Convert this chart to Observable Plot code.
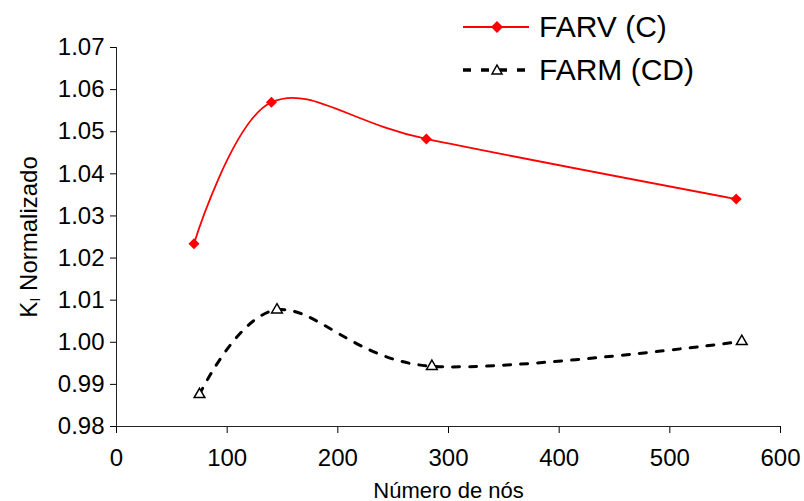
<!DOCTYPE html>
<html>
<head>
<meta charset="utf-8">
<script src="https://cdn.jsdelivr.net/npm/d3@7"></script>
<script src="https://cdn.jsdelivr.net/npm/@observablehq/plot@0.6"></script>
<style>
  body { margin: 0; background: #fff; }
  #wrap { position: relative; width: 804px; height: 501px; font-family: "Liberation Sans", Arial, sans-serif; }
  .leg { position: absolute; display: flex; align-items: center; font-size: 30px; color: #000; white-space: nowrap; }
  .leg svg { margin-right: 6px; }
</style>
</head>
<body>
<div id="wrap"></div>
<script>
// Data
const seriesNames = ["FARV (C)", "FARM (CD)"];
const farvNodes = [70, 140, 280, 560];
const farvValues = [1.0234, 1.0570, 1.0483, 1.0340];
const farmNodes = [75, 145, 285, 565];
const farmValues = [0.9876, 1.0077, 0.9943, 1.0002];
const xTicks = [0, 100, 200, 300, 400, 500, 600];
const yTicks = [0.98, 0.99, 1.00, 1.01, 1.02, 1.03, 1.04, 1.05, 1.06, 1.07];

const farv = farvNodes.map((n, i) => ({x: n, y: farvValues[i]}));
const farm = farmNodes.map((n, i) => ({x: n, y: farmValues[i]}));

const chart = Plot.plot({
  width: 804,
  height: 501,
  marginLeft: 116,
  marginRight: 24,
  marginTop: 47,
  marginBottom: 75,
  style: {fontSize: "24px", fontFamily: "'Liberation Sans', Arial, sans-serif", color: "#000", background: "#fff"},
  x: {domain: [0, 600], ticks: xTicks, tickSize: 7, tickPadding: 15, label: "Número de nós", labelAnchor: "center", labelOffset: 71, labelArrow: "none"},
  y: {domain: [0.98, 1.07], ticks: yTicks, tickFormat: d3.format(".2f"), tickSize: 6, tickPadding: 6, label: "KI Normalizado", labelAnchor: "center", labelOffset: 97, labelArrow: "none"},
  marks: [
    Plot.ruleX([0], {stroke: "#222", strokeWidth: 1}),
    Plot.ruleY([0.98], {stroke: "#222", strokeWidth: 1}),
    Plot.line(farv, {x: "x", y: "y", stroke: "#ff0000", strokeWidth: 1.8, curve: "cardinal"}),
    Plot.line(farm, {x: "x", y: "y", stroke: "#000", strokeWidth: 3, strokeDasharray: "7,10", curve: "cardinal"}),
    Plot.dot(farv, {x: "x", y: "y", symbol: "diamond2", fill: "#ff0000", stroke: "#ff0000", r: 4}),
    Plot.dot(farm, {x: "x", y: "y", symbol: "triangle", fill: "#fff", stroke: "#000", strokeWidth: 1.5, r: 4})
  ]
});

// x-axis label a bit smaller
const xl = chart.querySelector('[aria-label="x-axis label"]');
if (xl) xl.setAttribute("font-size", "22");

// subscript I in the y label
const yl = chart.querySelector('[aria-label="y-axis label"] text');
if (yl) {
  yl.textContent = "";
  const ns = "http://www.w3.org/2000/svg";
  const t1 = document.createElementNS(ns, "tspan"); t1.textContent = "K";
  const t2 = document.createElementNS(ns, "tspan"); t2.textContent = "I"; t2.setAttribute("font-size", "15"); t2.setAttribute("dy", "3");
  const t3 = document.createElementNS(ns, "tspan"); t3.textContent = " Normalizado"; t3.setAttribute("dy", "-3");
  yl.append(t1, t2, t3);
}

const wrap = document.getElementById("wrap");
wrap.appendChild(chart);

// Legend
const legendRows = [
  {name: seriesNames[0], top: 10, svg: '<svg width="72" height="34"><line x1="2" y1="17" x2="68" y2="17" stroke="#ff0000" stroke-width="1.8"/><path d="M36,11L42,17L36,23L30,17Z" fill="#ff0000"/></svg>'},
  {name: seriesNames[1], top: 53, svg: '<svg width="72" height="34"><line x1="2" y1="17" x2="68" y2="17" stroke="#000" stroke-width="3.5" stroke-dasharray="8,10"/><path d="M36,12L41,21L31,21Z" fill="#fff" stroke="#000" stroke-width="1.5"/></svg>'}
];
legendRows.forEach(r => {
  const d = document.createElement("div");
  d.className = "leg";
  d.style.left = "461px";
  d.style.top = r.top + "px";
  d.innerHTML = r.svg + "<span>" + r.name + "</span>";
  wrap.appendChild(d);
});
</script>
</body>
</html>
